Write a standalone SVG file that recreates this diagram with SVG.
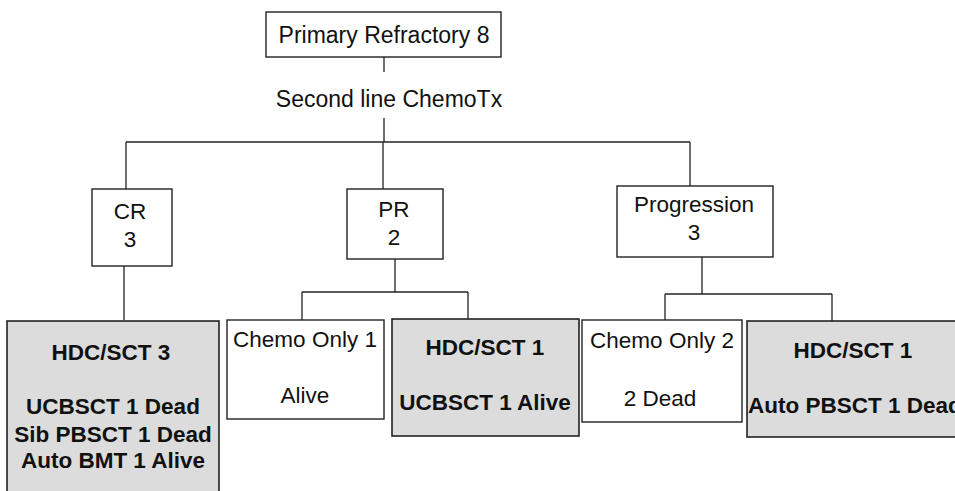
<svg xmlns="http://www.w3.org/2000/svg" width="955" height="491" viewBox="0 0 955 491">
<style>
.box{fill:#ffffff;stroke:#222;stroke-width:1.4}
.gbox{fill:#dcdcdc;stroke:#222;stroke-width:1.6}
.conn line{stroke:#222;stroke-width:1.3}
text{font-family:"Liberation Sans",Arial,sans-serif;font-size:22.5px;fill:#111;text-anchor:middle}
.b{font-weight:bold}
.big{font-size:23px}
</style>
<rect width="955" height="491" fill="#ffffff"/>
<g id="connectors" class="conn">
<line x1="384" y1="57" x2="384" y2="72"/>
<line x1="384" y1="118" x2="384" y2="142"/>
<line x1="126" y1="142" x2="690" y2="142"/>
<line x1="126" y1="142" x2="126" y2="189"/>
<line x1="383" y1="142" x2="383" y2="189"/>
<line x1="690" y1="142" x2="690" y2="186"/>
<line x1="124" y1="266" x2="124" y2="320"/>
<line x1="395" y1="259" x2="395" y2="292"/>
<line x1="302" y1="292" x2="468" y2="292"/>
<line x1="302" y1="292" x2="302" y2="320"/>
<line x1="468" y1="292" x2="468" y2="319"/>
<line x1="702" y1="257" x2="702" y2="294"/>
<line x1="665" y1="294" x2="832" y2="294"/>
<line x1="665" y1="294" x2="665" y2="320"/>
<line x1="832" y1="294" x2="832" y2="321"/>
</g>
<g id="root">
<rect class="box" x="266" y="12" width="235" height="45"/>
<text class="big" x="384" y="43">Primary Refractory 8</text>
</g>
<g id="label-second-line">
<text class="big" x="389" y="107">Second line ChemoTx</text>
</g>
<g id="cr">
<rect class="box" x="92" y="189" width="80" height="77"/>
<text x="130" y="219">CR</text>
<text x="130" y="247">3</text>
</g>
<g id="pr">
<rect class="box" x="347" y="189" width="96" height="70"/>
<text x="394" y="217">PR</text>
<text x="394" y="245">2</text>
</g>
<g id="progression">
<rect class="box" x="617" y="186" width="156" height="71"/>
<text x="694" y="212">Progression</text>
<text x="694" y="240">3</text>
</g>
<g id="cr-hdc">
<rect class="gbox" x="7" y="321" width="212" height="180"/>
<text class="b" x="111" y="360">HDC/SCT 3</text>
<text class="b" x="113" y="414">UCBSCT 1 Dead</text>
<text class="b" x="113" y="442">Sib PBSCT 1 Dead</text>
<text class="b" x="113" y="468">Auto BMT 1 Alive</text>
</g>
<g id="pr-chemo">
<rect class="box" x="227" y="320" width="157" height="99"/>
<text x="305" y="347">Chemo Only 1</text>
<text x="305" y="403">Alive</text>
</g>
<g id="pr-hdc">
<rect class="gbox" x="392" y="319" width="187" height="117"/>
<text class="b" x="485" y="355">HDC/SCT 1</text>
<text class="b" x="485" y="410">UCBSCT 1 Alive</text>
</g>
<g id="prog-chemo">
<rect class="box" x="582" y="320" width="160" height="102"/>
<text x="662" y="348">Chemo Only 2</text>
<text x="660" y="406">2 Dead</text>
</g>
<g id="prog-hdc">
<rect class="gbox" x="747" y="321" width="215" height="116"/>
<text class="b" x="853" y="358">HDC/SCT 1</text>
<text class="b" x="748" y="413" style="text-anchor:start">Auto PBSCT 1 Dead</text>
</g>
</svg>
